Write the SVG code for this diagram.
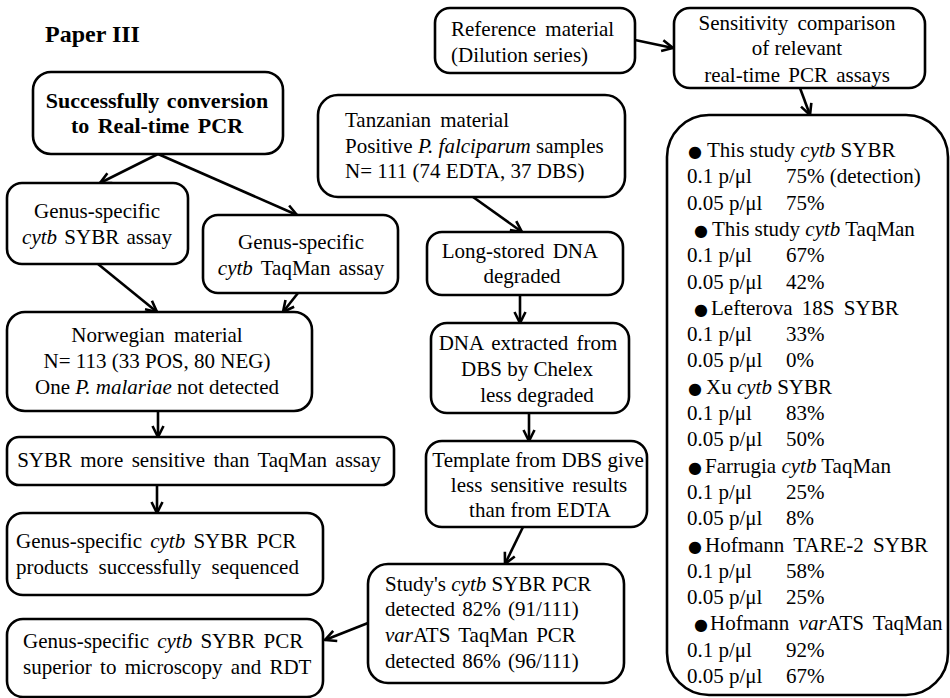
<svg xmlns="http://www.w3.org/2000/svg" width="950" height="698" viewBox="0 0 950 698">
  <style>
    .box { fill: #fff; stroke: #000; stroke-width: 2.6; }
    .t { font-family: "Liberation Serif", "Times New Roman", serif; font-size: 21px; fill: #000; }
    .c { text-anchor: middle; }
    .b { font-weight: bold; font-size: 22px; }
    .title { font-family: "Liberation Serif", "Times New Roman", serif; font-weight: bold; font-size: 24px; fill: #000; }
    .i { font-style: italic; }
    .blt { font-family: "DejaVu Sans", sans-serif; font-size: 16px; }
    .ln { fill: none; stroke: #000; stroke-width: 2.6; marker-end: url(#arr); }
  </style>
  <defs>
    <marker id="arr" markerUnits="userSpaceOnUse" markerWidth="14" markerHeight="14" refX="11" refY="6" orient="auto" overflow="visible">
      <path d="M0,0.5 L11,6 L0,11.5" fill="none" stroke="#000" stroke-width="2.6"/>
    </marker>
  </defs>

  <rect width="950" height="698" fill="#fff"/>

  <text class="title" x="45" y="42">Paper III</text>

  <!-- connectors -->
  <g id="connectors">
    <line class="ln" x1="158" y1="154" x2="100" y2="183"/>
    <line class="ln" x1="158" y1="154" x2="297" y2="215"/>
    <line class="ln" x1="98" y1="264" x2="157" y2="312"/>
    <line class="ln" x1="298" y1="293" x2="283" y2="312"/>
    <line class="ln" x1="158" y1="411" x2="158" y2="437"/>
    <line class="ln" x1="157" y1="485" x2="157" y2="513"/>
    <line class="ln" x1="368" y1="623" x2="325" y2="640"/>
    <line class="ln" x1="635" y1="40" x2="673" y2="48"/>
    <line class="ln" x1="800" y1="88" x2="810" y2="115"/>
    <line class="ln" x1="473" y1="197" x2="522" y2="232"/>
    <line class="ln" x1="520" y1="295" x2="520" y2="323"/>
    <line class="ln" x1="529" y1="413" x2="529" y2="441"/>
    <line class="ln" x1="523" y1="527" x2="505" y2="564"/>
  </g>

  <!-- left column -->
  <g id="conversion">
    <rect class="box" x="33" y="72" width="250" height="82" rx="18"/>
    <text class="t b c" x="157" y="108" word-spacing="2">Successfully conversion</text>
    <text class="t b c" x="157" y="133" word-spacing="3">to Real-time PCR</text>
  </g>

  <g id="sybr-assay">
    <rect class="box" x="7" y="183" width="181" height="81" rx="15"/>
    <text class="t c" x="97" y="218">Genus-specific</text>
    <text class="t c" x="97" y="244" word-spacing="2"><tspan class="i">cytb</tspan> SYBR assay</text>
  </g>

  <g id="taqman-assay">
    <rect class="box" x="203" y="215" width="195" height="78" rx="15"/>
    <text class="t c" x="301" y="249">Genus-specific</text>
    <text class="t c" x="301" y="275" word-spacing="3"><tspan class="i">cytb</tspan> TaqMan assay</text>
  </g>

  <g id="norwegian">
    <rect class="box" x="7" y="312" width="305" height="99" rx="18"/>
    <text class="t c" x="157" y="342" word-spacing="4">Norwegian material</text>
    <text class="t c" x="157" y="368">N= 113 (33 POS, 80 NEG)</text>
    <text class="t c" x="157" y="394">One <tspan class="i">P. malariae</tspan> not detected</text>
  </g>

  <g id="sybr-more-sensitive">
    <rect class="box" x="7" y="437" width="387" height="48" rx="12"/>
    <text class="t c" x="199" y="467" word-spacing="3">SYBR more sensitive than TaqMan assay</text>
  </g>

  <g id="sequenced">
    <rect class="box" x="7" y="513" width="316" height="82" rx="16"/>
    <text class="t" x="16" y="548" word-spacing="3">Genus-specific <tspan class="i">cytb</tspan> SYBR PCR</text>
    <text class="t" x="16" y="574" word-spacing="5">products successfully sequenced</text>
  </g>

  <g id="superior">
    <rect class="box" x="7" y="619" width="316" height="78" rx="16"/>
    <text class="t" x="23" y="648" word-spacing="3">Genus-specific <tspan class="i">cytb</tspan> SYBR PCR</text>
    <text class="t" x="23" y="674" word-spacing="3">superior to microscopy and RDT</text>
  </g>

  <!-- middle column -->
  <g id="reference-material">
    <rect class="box" x="435" y="8" width="200" height="65" rx="15"/>
    <text class="t" x="451" y="36" word-spacing="4">Reference material</text>
    <text class="t" x="451" y="62">(Dilution series)</text>
  </g>

  <g id="tanzanian">
    <rect class="box" x="318" y="95" width="307" height="102" rx="20"/>
    <text class="t" x="345" y="127" word-spacing="4">Tanzanian material</text>
    <text class="t" x="345" y="153">Positive <tspan class="i">P. falciparum</tspan> samples</text>
    <text class="t" x="345" y="178">N= 111 (74 EDTA, 37 DBS)</text>
  </g>

  <g id="long-stored">
    <rect class="box" x="427" y="232" width="196" height="63" rx="15"/>
    <text class="t c" x="520" y="258" word-spacing="3">Long-stored DNA</text>
    <text class="t c" x="522" y="283">degraded</text>
  </g>

  <g id="chelex">
    <rect class="box" x="431" y="323" width="198" height="90" rx="16"/>
    <text class="t c" x="528" y="350" word-spacing="3">DNA extracted from</text>
    <text class="t c" x="527" y="376">DBS by Chelex</text>
    <text class="t c" x="537" y="402">less degraded</text>
  </g>

  <g id="template">
    <rect class="box" x="426" y="441" width="221" height="86" rx="16"/>
    <text class="t c" x="538" y="467">Template from DBS give</text>
    <text class="t c" x="539" y="492" word-spacing="3">less sensitive results</text>
    <text class="t c" x="540" y="517">than from EDTA</text>
  </g>

  <g id="study-detection">
    <rect class="box" x="368" y="564" width="256" height="119" rx="20"/>
    <text class="t" x="385" y="591">Study's <tspan class="i">cytb</tspan> SYBR PCR</text>
    <text class="t" x="385" y="616" word-spacing="2">detected 82% (91/111)</text>
    <text class="t" x="385" y="642" word-spacing="3"><tspan class="i">var</tspan>ATS TaqMan PCR</text>
    <text class="t" x="385" y="668" word-spacing="2">detected 86% (96/111)</text>
  </g>

  <!-- right column -->
  <g id="sensitivity-comparison">
    <rect class="box" x="674" y="8" width="251" height="80" rx="16"/>
    <text class="t c" x="797" y="30" word-spacing="4">Sensitivity comparison</text>
    <text class="t c" x="797" y="55">of relevant</text>
    <text class="t c" x="797" y="82" word-spacing="3">real-time PCR assays</text>
  </g>

  <g id="assay-results">
    <rect class="box" x="667" y="115" width="281" height="580" rx="42"/>
    <text class="t" y="157"><tspan class="blt" x="688">●</tspan><tspan x="707">This study <tspan class="i">cytb</tspan> SYBR</tspan></text>
    <text class="t" y="183.3"><tspan x="687">0.1 p/μl</tspan><tspan x="786">75% (detection)</tspan></text>
    <text class="t" y="209.6"><tspan x="687">0.05 p/μl</tspan><tspan x="786">75%</tspan></text>
    <text class="t" y="235.9"><tspan class="blt" x="694">●</tspan><tspan x="712">This study <tspan class="i">cytb</tspan> TaqMan</tspan></text>
    <text class="t" y="262.2"><tspan x="687">0.1 p/μl</tspan><tspan x="786">67%</tspan></text>
    <text class="t" y="288.5"><tspan x="687">0.05 p/μl</tspan><tspan x="786">42%</tspan></text>
    <text class="t" y="314.8"><tspan class="blt" x="694">●</tspan><tspan x="711" word-spacing="4">Lefterova 18S SYBR</tspan></text>
    <text class="t" y="341.1"><tspan x="687">0.1 p/μl</tspan><tspan x="786">33%</tspan></text>
    <text class="t" y="367.4"><tspan x="687">0.05 p/μl</tspan><tspan x="786">0%</tspan></text>
    <text class="t" y="393.7"><tspan class="blt" x="688">●</tspan><tspan x="706">Xu <tspan class="i">cytb</tspan> SYBR</tspan></text>
    <text class="t" y="420"><tspan x="687">0.1 p/μl</tspan><tspan x="786">83%</tspan></text>
    <text class="t" y="446.3"><tspan x="687">0.05 p/μl</tspan><tspan x="786">50%</tspan></text>
    <text class="t" y="472.6"><tspan class="blt" x="688">●</tspan><tspan x="705">Farrugia <tspan class="i">cytb</tspan> TaqMan</tspan></text>
    <text class="t" y="498.9"><tspan x="687">0.1 p/μl</tspan><tspan x="786">25%</tspan></text>
    <text class="t" y="525.2"><tspan x="687">0.05 p/μl</tspan><tspan x="786">8%</tspan></text>
    <text class="t" y="551.5"><tspan class="blt" x="688">●</tspan><tspan x="705" word-spacing="4">Hofmann TARE-2 SYBR</tspan></text>
    <text class="t" y="577.8"><tspan x="687">0.1 p/μl</tspan><tspan x="786">58%</tspan></text>
    <text class="t" y="604.1"><tspan x="687">0.05 p/μl</tspan><tspan x="786">25%</tspan></text>
    <text class="t" y="630.4"><tspan class="blt" x="694">●</tspan><tspan x="710" word-spacing="4">Hofmann <tspan class="i">var</tspan>ATS TaqMan</tspan></text>
    <text class="t" y="656.7"><tspan x="687">0.1 p/μl</tspan><tspan x="786">92%</tspan></text>
    <text class="t" y="683"><tspan x="687">0.05 p/μl</tspan><tspan x="786">67%</tspan></text>
  </g>
</svg>
